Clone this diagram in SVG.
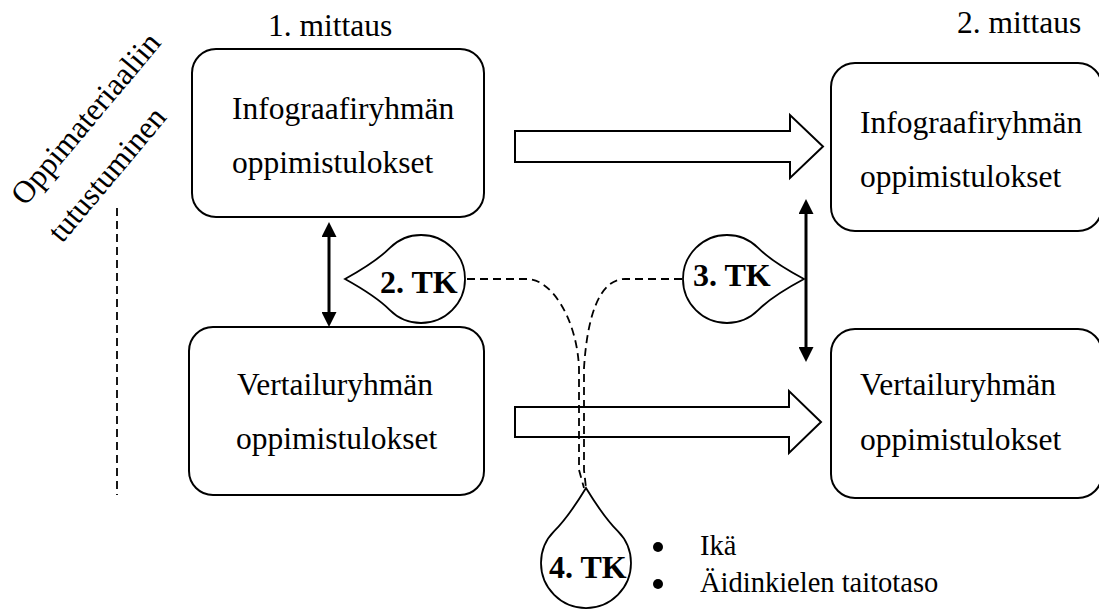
<svg xmlns="http://www.w3.org/2000/svg" width="1099" height="610" viewBox="0 0 1099 610">
<defs>
<style>
text{font-family:"Liberation Serif","Times New Roman",serif;fill:#000}
.t{font-size:31.5px}
.b{font-size:32px;font-weight:bold}
.s{font-size:28.5px}
.box{fill:#fff;stroke:#000;stroke-width:2}
.drop{fill:#fff;stroke:#000;stroke-width:1.8}
.blk{fill:#fff;stroke:#000;stroke-width:2}
.dash{fill:none;stroke:#000;stroke-width:1.8;stroke-dasharray:8 5}
.dbl{fill:none;stroke:#000;stroke-width:3;marker-start:url(#ah);marker-end:url(#ah)}
</style>
<marker id="ah" viewBox="0 0 15 15" refX="0" refY="7.5" markerWidth="15" markerHeight="15" markerUnits="userSpaceOnUse" orient="auto-start-reverse">
<path d="M0,0 L15,7.5 L0,15 Z" fill="#000"/>
</marker>
</defs>
<rect width="1099" height="610" fill="#fff"/>

<g id="labels">
<text class="t" x="268" y="36">1. mittaus</text>
<text class="t" x="957" y="33">2. mittaus</text>
<text class="t" transform="translate(25,207) rotate(-50)">Oppimateriaaliin</text>
<text class="t" transform="translate(62,244) rotate(-50)">tutustuminen</text>
</g>

<g id="connectors">
<path class="dash" d="M117,208 L117,495"/>
<path class="blk" d="M515,131 L790,131 L790,115 L823,146.5 L790,178 L790,162 L515,162 Z"/>
<path class="blk" d="M515,407 L789,407 L789,391 L821,422 L789,453 L789,437 L515,437 Z"/>
<path class="dbl" d="M329,237 L329,312"/>
<path class="dbl" d="M806,214 L806,347"/>
<path class="dash" d="M467,279 L527,279 C552,279 577,320 579,368 L579,470 L584,488"/>
<path class="dash" d="M682,279 L625,279 C598,279 587,320 584,368 L584,470 L586,488"/>
</g>

<g id="box1">
<rect class="box" x="192" y="49" width="292" height="168" rx="24"/>
<text class="t" x="232" y="119">Infograafiryhmän</text>
<text class="t" x="232" y="173">oppimistulokset</text>
</g>
<g id="box2">
<rect class="box" x="189" y="327" width="295" height="168" rx="24"/>
<text class="t" x="237" y="395">Vertailuryhmän</text>
<text class="t" x="236" y="449">oppimistulokset</text>
</g>
<g id="box3">
<rect class="box" x="831" y="63" width="271" height="168" rx="24"/>
<text class="t" x="860" y="133">Infograafiryhmän</text>
<text class="t" x="860" y="187">oppimistulokset</text>
</g>
<g id="box4">
<rect class="box" x="831" y="329" width="271" height="169" rx="24"/>
<text class="t" x="860" y="395">Vertailuryhmän</text>
<text class="t" x="860" y="450">oppimistulokset</text>
</g>

<g id="tk2">
<path class="drop" d="M345,279 Q375.9,261.9 389.9,247.9 A44,44 0 1 1 389.9,310.1 Q375.9,296.1 345,279 Z"/>
<text class="b" x="380" y="293">2. TK</text>
</g>
<g id="tk3">
<path class="drop" d="M804,279 Q772.2,262 758.1,247.9 A44,44 0 1 0 758.1,310.1 Q772.2,296 804,279 Z"/>
<text class="b" x="693" y="286">3. TK</text>
</g>
<g id="tk4">
<path class="drop" d="M586,488 Q568.2,517.2 554.2,531.2 A45,45 0 1 0 617.8,531.2 Q603.8,517.2 586,488 Z"/>
<text class="b" x="549" y="578">4. TK</text>
</g>

<g id="bullets">
<circle cx="658" cy="547" r="5" fill="#000"/>
<circle cx="658" cy="584" r="5" fill="#000"/>
<text class="s" x="700" y="555">Ikä</text>
<text class="s" x="700" y="592">Äidinkielen taitotaso</text>
</g>
</svg>
